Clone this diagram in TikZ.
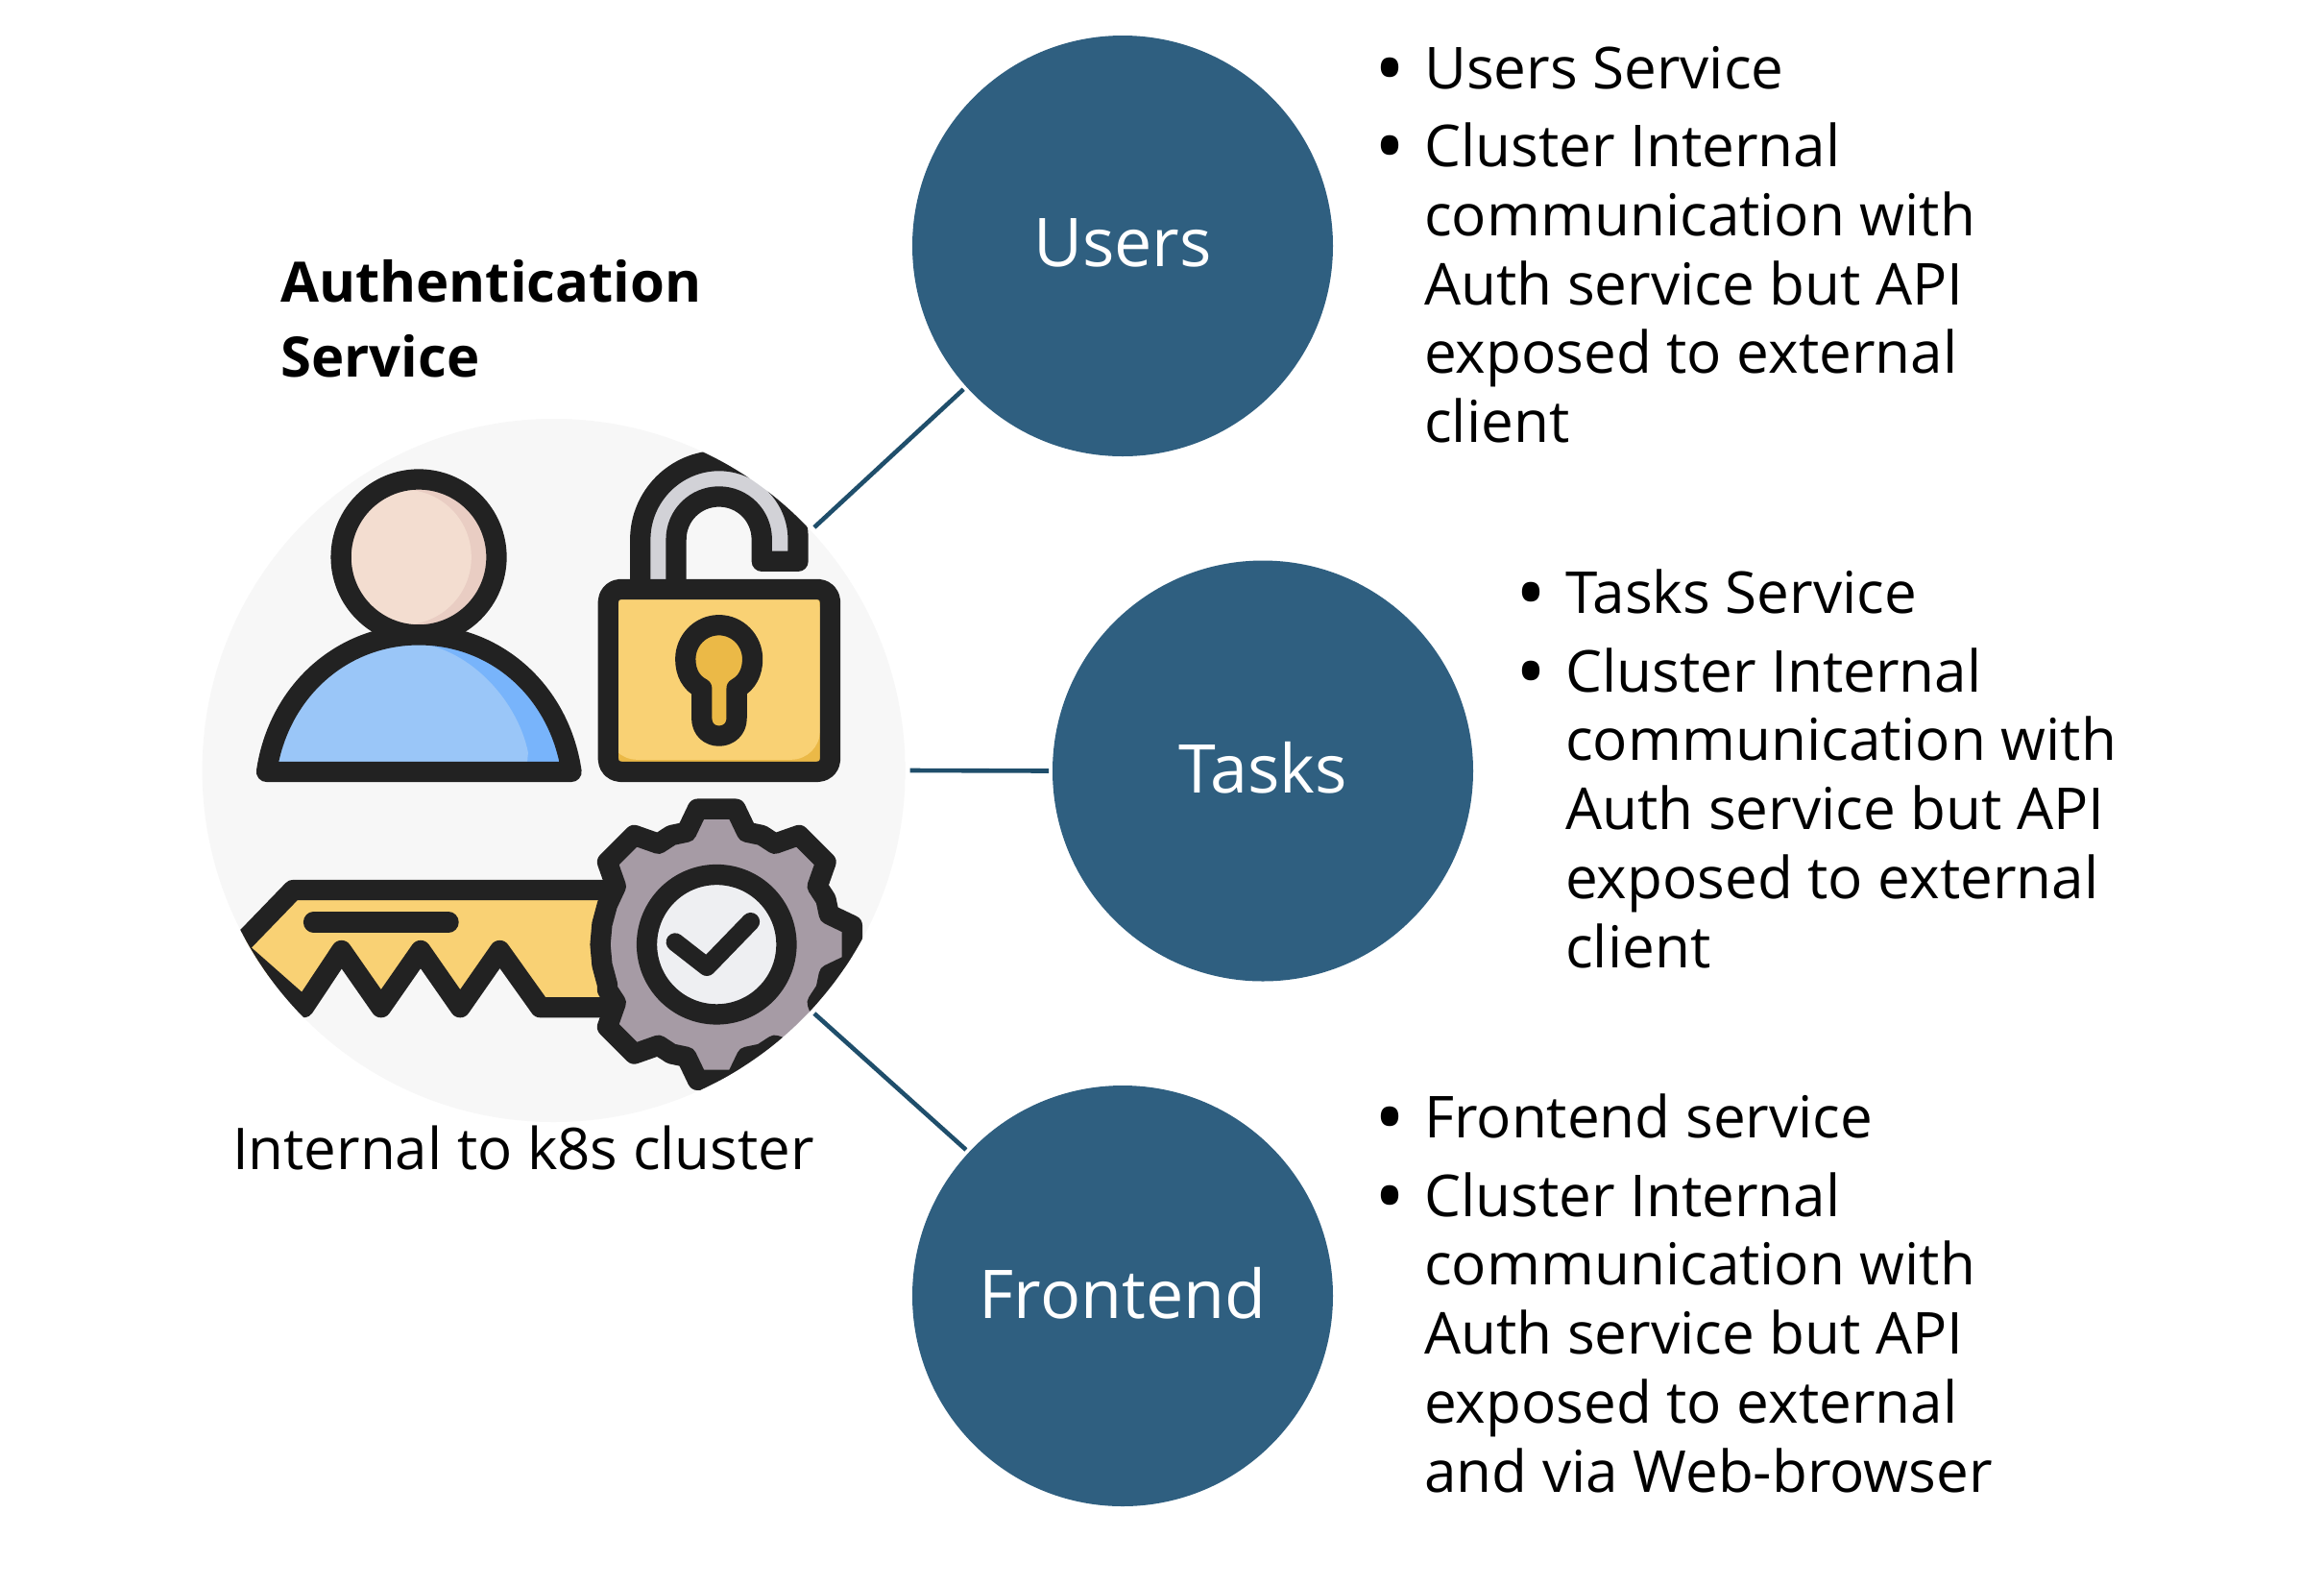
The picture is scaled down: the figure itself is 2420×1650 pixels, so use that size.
\documentclass[tikz,border=0pt]{standalone}
\usepackage{fontspec}
\setmainfont{Open Sans}
\definecolor{circ}{HTML}{2F5F80}
\definecolor{conn}{HTML}{1F4E6B}
\definecolor{ink}{HTML}{222222}
\definecolor{pale}{HTML}{F7F7F7}
\definecolor{skin}{HTML}{F3DDD0}
\definecolor{skinshade}{HTML}{E9CDC3}
\definecolor{shirt}{HTML}{9AC6F8}
\definecolor{shirtshade}{HTML}{78B4FB}
\definecolor{gold}{HTML}{F9D174}
\definecolor{goldshade}{HTML}{EBB947}
\definecolor{shackle}{HTML}{D2D2D7}
\definecolor{cog}{HTML}{A69BA5}
\definecolor{dial}{HTML}{EEEFF2}
\tikzset{
 hub/.style={circle,fill=circ,minimum size=438pt,inner sep=0pt,outer sep=4pt,text=white,font=\fontsize{70}{84}\selectfont},
 wire/.style={draw=conn,line width=4.6pt},
 blist/.style={anchor=base west,inner sep=0pt,align=left,text=black,font=\fontsize{60.2}{71.7}\selectfont},
 lab/.style={anchor=base west,inner sep=0pt,align=left,text=black,font=\fontsize{60}{78}\selectfont},
 icon/.style={draw=ink,line width=21.3pt,line join=round,line cap=round},
}
\newcommand{\itm}{\llap{\raisebox{-9pt}{\fontsize{85}{85}\selectfont •}\hspace{20pt}}}
\begin{document}
\begin{tikzpicture}[x=1pt,y=-1pt]
\path[use as bounding box,fill=white] (0,0) rectangle (2420,1650);
\node[circle,fill=pale,minimum size=732pt,inner sep=0pt,outer sep=5pt] (auth) at (576.6,802) {};
\begin{scope}
\clip (576.6,802) circle[radius=366];
\begin{scope}[xshift=200pt,yshift=-420pt,x=0.4847pt,y=-0.4847pt]
% head
\fill[skinshade] (487,330) circle[radius=167];
\begin{scope}
\clip (487,330) circle[radius=167];
\fill[skin] (455,330) circle[radius=145];
\end{scope}
\draw[icon] (487,330) circle[radius=167];
% body
\fill[shirtshade] (160,791) .. controls (185,620) and (320,497) .. (487,497) .. controls (655,497) and (790,620) .. (815,791) -- cycle;
\fill[shirt] (160,791) .. controls (185,620) and (320,510) .. (487,515) .. controls (600,530) and (700,640) .. (722,750) -- (718,791) -- cycle;
\draw[icon] (160,791) .. controls (185,620) and (320,497) .. (487,497) .. controls (655,497) and (790,620) .. (815,791) -- cycle;
% shackle
\draw[icon,fill=shackle] (963,400) -- (963,292) .. controls (963,199) and (1039,123) .. (1132,123) .. controls (1225,123) and (1302,199) .. (1302,292) -- (1302,339) -- (1224,339) -- (1224,292) .. controls (1224,241) and (1183,200) .. (1132,200) .. controls (1081,200) and (1040,241) .. (1040,292) -- (1040,400);
% lock body
\fill[goldshade] (894,399) rectangle (1371,791);
\fill[gold,rounded corners=30pt] (894,380) -- (1349,380) -- (1349,765) -- (894,765) -- cycle;
\draw[icon,rounded corners=13pt] (894,399) rectangle (1371,791);
% keyhole
\draw[icon,fill=goldshade] (1095,612) .. controls (1072,600) and (1060,578) .. (1060,549) .. controls (1060,509) and (1092,476) .. (1132,476) .. controls (1172,476) and (1204,509) .. (1204,549) .. controls (1204,578) and (1192,600) .. (1170,612) -- (1170,676) .. controls (1170,700) and (1152,714) .. (1132,714) .. controls (1112,714) and (1095,700) .. (1095,676) -- cycle;
% key
\draw[icon,fill=gold] (905,1045) -- (217,1045) -- (96,1170) -- (240,1297) -- (321,1175) -- (406,1297) -- (491,1175) -- (576,1297) -- (661,1175) -- (748,1297) -- (905,1297);
\draw[icon] (261,1114) -- (551,1114);
% gear: seven teeth, none on the key side
\begin{scope}[shift={(1127,1162)}]
\draw[icon,fill=cog] (-150:250) \foreach \a in {-135,-90,-45,0,45,90,135} { -- (\a-15:250) -- (\a-8:294) -- (\a+8:294) -- (\a+15:250) -- (\a+22.5:254) } -- (160:250) -- (170:250) -- (180:250) -- (190:250) -- (200:250) -- cycle;
\draw[icon,fill=dial] (0,0) circle[radius=150];
\draw[icon,line width=19pt] (-89,-5) -- (-21,48) -- (73,-49);
\end{scope}
\end{scope}
\end{scope}
\node[hub] (users) at (1169,256) {\raisebox{7pt}{Users}};
\node[hub] (tasks) at (1315,802.5) {\raisebox{7pt}{Tasks}};
\node[hub] (front) at (1169,1349) {\raisebox{7pt}{Frontend}};
\draw[wire] (auth.43.4) -- (users.222.6);
\draw[wire] (auth.0) -- (tasks.180);
\draw[wire] (auth.-43.4) -- (front.137);
\node[lab,font=\fontsize{58}{78}\bfseries\selectfont] (title) at (292,392) {Authentication\\Service};
\node[lab] (scope) at (242,1217) {Internal to k8s cluster};
\node[blist] (usersnote) at (1483,460.5) {\itm Users Service\\[10pt]\itm Cluster Internal\\communication with\\Auth service but API\\exposed to external\\client};
\node[blist] (tasksnote) at (1630,1007) {\itm Tasks Service\\[10pt]\itm Cluster Internal\\communication with\\Auth service but API\\exposed to external\\client};
\node[blist] (frontnote) at (1483,1553) {\itm Frontend service\\[10pt]\itm Cluster Internal\\communication with\\Auth service but API\\exposed to external\\and via Web-browser};
\end{tikzpicture}
\end{document}
